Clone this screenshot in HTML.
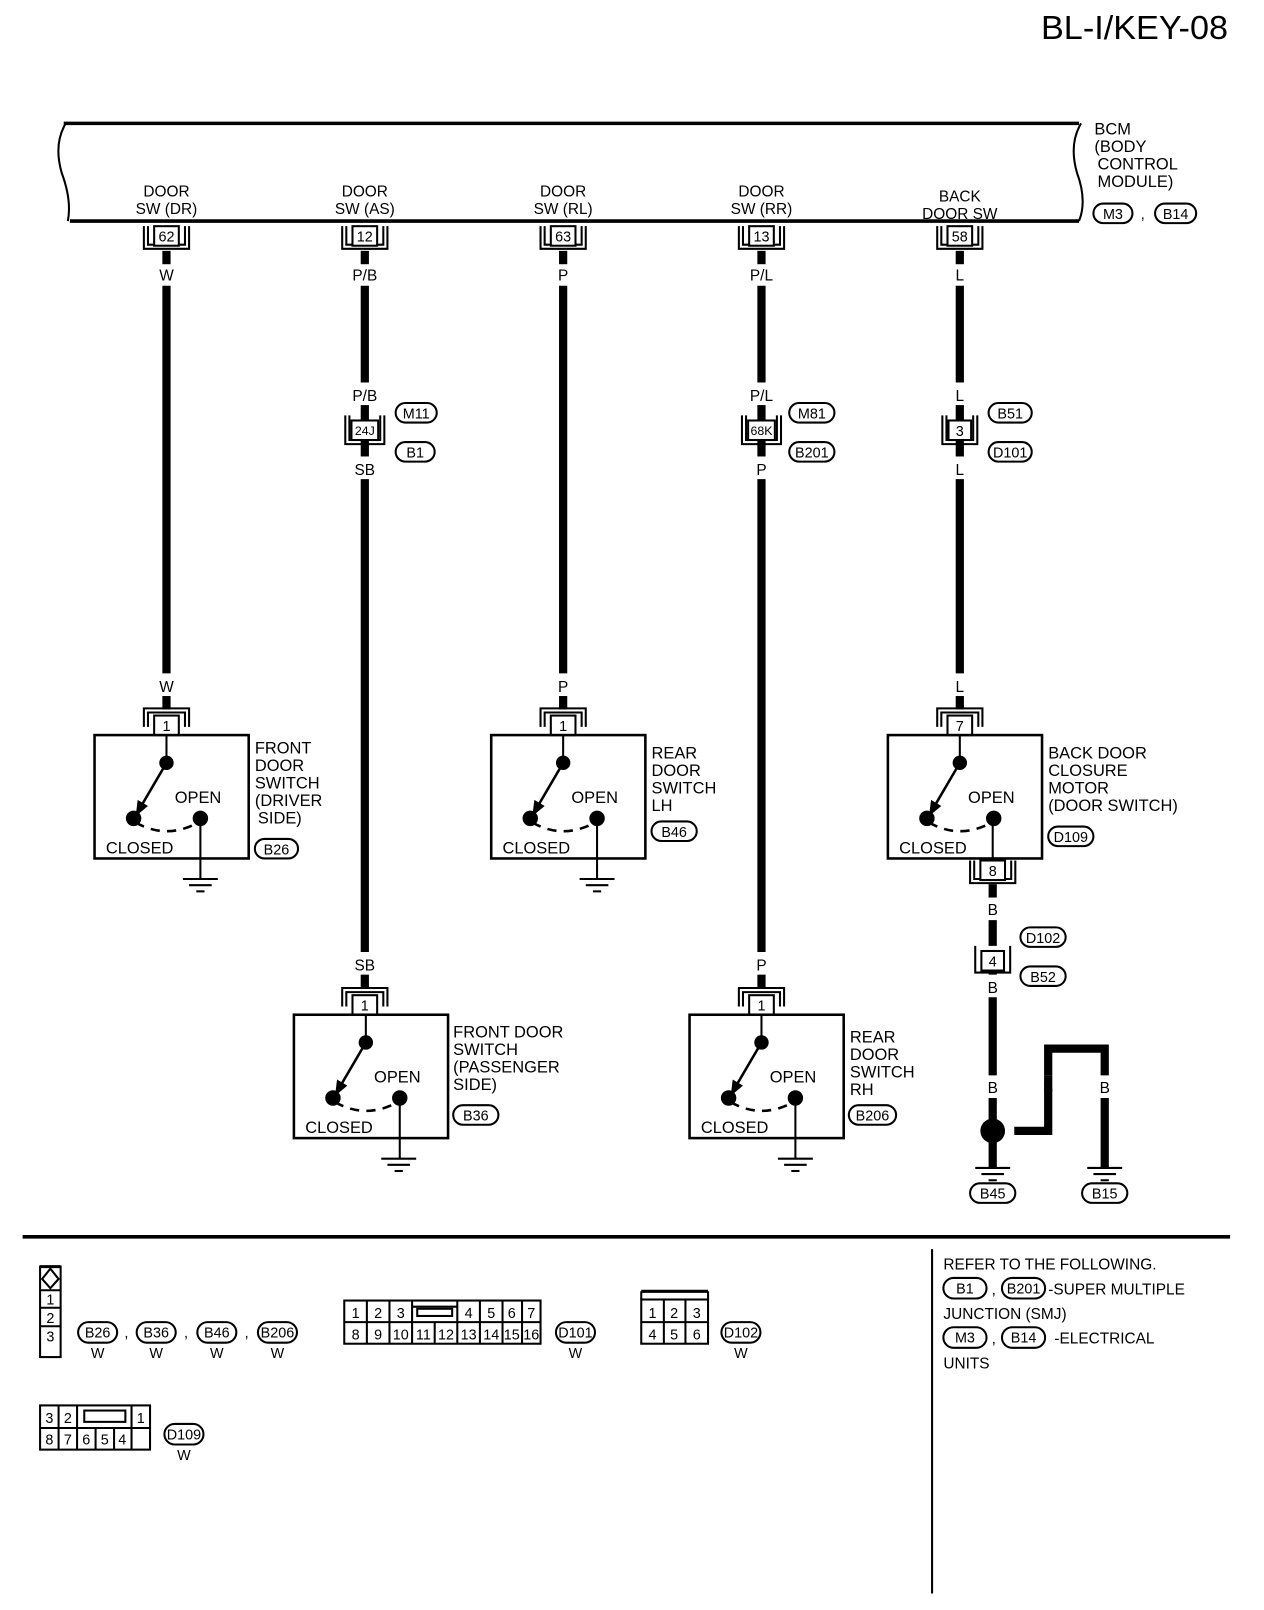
<!DOCTYPE html>
<html><head><meta charset="utf-8"><style>
html,body{margin:0;padding:0;background:#fff;}
svg{display:block;}
text{font-family:"Liberation Sans",sans-serif;fill:#000;}
</style></head><body>
<svg width="1264" height="1610" viewBox="0 0 1230 1566" preserveAspectRatio="none" xmlns="http://www.w3.org/2000/svg">
<defs>
<g id="sw">
<rect x="0" y="0" width="150" height="120" fill="none" stroke="#000" stroke-width="2.5"/>
<line x1="70" y1="0" x2="70" y2="27" stroke="#000" stroke-width="2"/>
<circle cx="70" cy="27" r="7"/>
<circle cx="38" cy="81" r="7.5"/>
<circle cx="103" cy="81" r="7.5"/>
<line x1="70" y1="27" x2="46" y2="68" stroke="#000" stroke-width="2.5"/>
<polygon points="40,79 42,63 52,69"/>
<path d="M40,85 Q70,102 101,85" fill="none" stroke="#000" stroke-width="2.5" stroke-dasharray="9 7"/>
<text x="78" y="66" font-size="16">OPEN</text>
<text x="11" y="115" font-size="16">CLOSED</text>
</g>
<g id="gnd">
<line x1="-17" y1="0" x2="17" y2="0" stroke="#000" stroke-width="2"/>
<line x1="-11" y1="6" x2="11" y2="6" stroke="#000" stroke-width="2"/>
<line x1="-4" y1="12" x2="4" y2="12" stroke="#000" stroke-width="2"/>
</g>
<g id="pinTop">
<path d="M-22,20 V2 H22 V20 M-18,20 V6 H18 V20" fill="none" stroke="#000" stroke-width="2"/>
<rect x="-12" y="9" width="24" height="19" fill="#fff" stroke="#000" stroke-width="2"/>
</g>
<g id="pinBot">
<path d="M-22,0 V22 H22 V0 M-18,0 V18 H18 V0" fill="none" stroke="#000" stroke-width="2"/>
<rect x="-12" y="0" width="24" height="19" fill="#fff" stroke="#000" stroke-width="2"/>
</g>
</defs>

<text x="1195" y="38" font-size="32" text-anchor="end" textLength="182" lengthAdjust="spacingAndGlyphs">BL-I/KEY-08</text>

<!-- BCM -->
<path d="M62,120 H1050" stroke="#000" stroke-width="3.5"/>
<path d="M68,215 H1050" stroke="#000" stroke-width="3.5"/>
<path d="M64,120 Q52,140 60,168 Q70,195 66,215" fill="none" stroke="#000" stroke-width="2"/>
<path d="M1052,120 Q1040,140 1048,168 Q1058,195 1050,215" fill="none" stroke="#000" stroke-width="2"/>
<g font-size="16">
<text x="1065" y="131">BCM</text><text x="1065" y="148">(BODY</text><text x="1068" y="165">CONTROL</text><text x="1068" y="182">MODULE)</text>
</g>
<g font-size="15" text-anchor="middle">
<text x="162" y="191">DOOR</text><text x="162" y="208">SW (DR)</text>
<text x="355" y="191">DOOR</text><text x="355" y="208">SW (AS)</text>
<text x="548" y="191">DOOR</text><text x="548" y="208">SW (RL)</text>
<text x="741" y="191">DOOR</text><text x="741" y="208">SW (RR)</text>
<text x="934" y="196">BACK</text><text x="934" y="213">DOOR SW</text>
</g>

<!-- BCM pins -->
<g font-size="14" text-anchor="middle">
<use href="#pinBot" x="162" y="220"/><text x="162" y="235">62</text>
<use href="#pinBot" x="355" y="220"/><text x="355" y="235">12</text>
<use href="#pinBot" x="548" y="220"/><text x="548" y="235">63</text>
<use href="#pinBot" x="741" y="220"/><text x="741" y="235">13</text>
<use href="#pinBot" x="934" y="220"/><text x="934" y="235">58</text>
</g>

<!-- wires -->
<g stroke="#000" stroke-width="8">
<line x1="162" y1="244" x2="162" y2="257"/><line x1="162" y1="278" x2="162" y2="655"/>
<line x1="355" y1="244" x2="355" y2="257"/><line x1="355" y1="278" x2="355" y2="372"/><line x1="355" y1="394" x2="355" y2="410"/><line x1="355" y1="428" x2="355" y2="444"/><line x1="355" y1="466" x2="355" y2="926"/><line x1="355" y1="948" x2="355" y2="960"/>
<line x1="548" y1="244" x2="548" y2="257"/><line x1="548" y1="278" x2="548" y2="655"/><line x1="548" y1="677" x2="548" y2="690"/>
<line x1="741" y1="244" x2="741" y2="257"/><line x1="741" y1="278" x2="741" y2="372"/><line x1="741" y1="394" x2="741" y2="410"/><line x1="741" y1="428" x2="741" y2="444"/><line x1="741" y1="466" x2="741" y2="926"/><line x1="741" y1="948" x2="741" y2="960"/>
<line x1="934" y1="244" x2="934" y2="257"/><line x1="934" y1="278" x2="934" y2="372"/><line x1="934" y1="394" x2="934" y2="410"/><line x1="934" y1="428" x2="934" y2="444"/><line x1="934" y1="466" x2="934" y2="655"/><line x1="934" y1="677" x2="934" y2="690"/>
<line x1="162" y1="677" x2="162" y2="690" />
<line x1="966" y1="860" x2="966" y2="873"/><line x1="966" y1="895" x2="966" y2="920"/><line x1="966" y1="940" x2="966" y2="948"/><line x1="966" y1="970" x2="966" y2="1046"/><line x1="966" y1="1068" x2="966" y2="1136"/>
<path d="M985,1100 H1020 V1046 M1020,1068 V1100" fill="none"/>
<path d="M1020,1046 V1020 H1075 V1046 M1075,1068 V1136" fill="none"/>
</g>
<circle cx="966" cy="1100" r="12"/>
<line x1="980" y1="1100" x2="987" y2="1100" stroke="#fff" stroke-width="10"/>

<!-- wire colour labels -->
<g font-size="15" text-anchor="middle">
<text x="162" y="273">W</text><text x="355" y="273">P/B</text><text x="548" y="273">P</text><text x="741" y="273">P/L</text><text x="934" y="273">L</text>
<text x="162" y="673">W</text><text x="548" y="673">P</text><text x="934" y="673">L</text>
<text x="355" y="390">P/B</text><text x="741" y="390">P/L</text><text x="934" y="390">L</text>
<text x="355" y="462">SB</text><text x="741" y="462">P</text><text x="934" y="462">L</text>
<text x="355" y="944">SB</text><text x="741" y="944">P</text>
<text x="966" y="890">B</text><text x="966" y="966">B</text>
<text x="966" y="1063">B</text><text x="1020" y="1063">B</text><text x="1075" y="1063">B</text>
</g>

<!-- inline connectors -->
<g stroke="#000" stroke-width="2" fill="none">
<path d="M336,404 V432 H374 V404 M340,404 V428 H370 V404"/>
<rect x="342" y="409" width="26" height="19" fill="#fff"/>
<path d="M722,404 V432 H760 V404 M726,404 V428 H756 V404"/>
<rect x="728" y="409" width="26" height="19" fill="#fff"/>
<path d="M917,404 V432 H951 V404 M921,404 V428 H947 V404"/>
<rect x="923" y="409" width="22" height="19" fill="#fff"/>
<path d="M949,920 V946 H983 V920"/>
<rect x="955" y="925" width="22" height="19" fill="#fff"/>
</g>
<g font-size="12" text-anchor="middle">
<text x="355" y="423">24J</text><text x="741" y="423">68K</text>
</g>
<g font-size="14" text-anchor="middle">
<text x="934" y="424">3</text><text x="966" y="940">4</text>
</g>

<!-- switches -->
<use href="#pinTop" x="162" y="687"/><use href="#sw" x="92" y="715"/><use href="#gnd" x="195" y="855"/><line x1="195" y1="796" x2="195" y2="855" stroke="#000" stroke-width="2"/>
<use href="#pinTop" x="548" y="687"/><use href="#sw" x="478" y="715"/><use href="#gnd" x="581" y="855"/><line x1="581" y1="796" x2="581" y2="855" stroke="#000" stroke-width="2"/>
<use href="#pinTop" x="934" y="687"/><use href="#sw" x="864" y="715"/><line x1="966" y1="796" x2="966" y2="838" stroke="#000" stroke-width="2"/>
<use href="#pinBot" x="966" y="837"/>
<use href="#pinTop" x="355" y="959"/><use href="#sw" x="286" y="987"/><use href="#gnd" x="388" y="1127"/><line x1="389" y1="1068" x2="389" y2="1127" stroke="#000" stroke-width="2"/>
<use href="#pinTop" x="741" y="959"/><use href="#sw" x="671" y="987"/><use href="#gnd" x="774" y="1127"/><line x1="774" y1="1068" x2="774" y2="1127" stroke="#000" stroke-width="2"/>
<use href="#gnd" x="966" y="1136"/><use href="#gnd" x="1075" y="1136"/>
<g font-size="14" text-anchor="middle">
<text x="162" y="711">1</text><text x="548" y="711">1</text><text x="934" y="711">7</text><text x="966" y="852">8</text><text x="355" y="983">1</text><text x="741" y="983">1</text>
</g>

<g font-size="16">
<text x="248" y="733">FRONT</text><text x="248" y="750">DOOR</text><text x="248" y="767">SWITCH</text><text x="248" y="784">(DRIVER</text><text x="251" y="801">SIDE)</text>
<text x="634" y="738">REAR</text><text x="634" y="755">DOOR</text><text x="634" y="772">SWITCH</text><text x="634" y="789">LH</text>
<text x="1020" y="738">BACK DOOR</text><text x="1020" y="755">CLOSURE</text><text x="1020" y="772">MOTOR</text><text x="1020" y="789">(DOOR SWITCH)</text>
<text x="441" y="1009">FRONT DOOR</text><text x="441" y="1026">SWITCH</text><text x="441" y="1043">(PASSENGER</text><text x="441" y="1060">SIDE)</text>
<text x="827" y="1014">REAR</text><text x="827" y="1031">DOOR</text><text x="827" y="1048">SWITCH</text><text x="827" y="1065">RH</text>
</g>

<!-- ovals -->
<g fill="none" stroke="#000" stroke-width="2">
<rect x="1064" y="198" width="38" height="19" rx="9.5"/><rect x="1124" y="198" width="40" height="19" rx="9.5"/>
<rect x="385" y="392" width="40" height="19" rx="9.5"/><rect x="385" y="430" width="38" height="19" rx="9.5"/>
<rect x="768" y="392" width="44" height="19" rx="9.5"/><rect x="768" y="430" width="44" height="19" rx="9.5"/>
<rect x="962" y="392" width="42" height="19" rx="9.5"/><rect x="962" y="430" width="42" height="19" rx="9.5"/>
<rect x="248" y="816" width="42" height="19" rx="9.5"/>
<rect x="634" y="799" width="44" height="19" rx="9.5"/>
<rect x="1020" y="804" width="44" height="19" rx="9.5"/>
<rect x="993" y="902" width="44" height="19" rx="9.5"/><rect x="993" y="940" width="44" height="19" rx="9.5"/>
<rect x="441" y="1075" width="44" height="19" rx="9.5"/>
<rect x="826" y="1075" width="46" height="19" rx="9.5"/>
<rect x="944" y="1151" width="44" height="19" rx="9.5"/><rect x="1053" y="1151" width="44" height="19" rx="9.5"/>
</g>
<g font-size="14" text-anchor="middle">
<text x="1083" y="213">M3</text><text x="1144" y="213">B14</text><text x="1112" y="213">,</text>
<text x="405" y="407">M11</text><text x="404" y="445">B1</text>
<text x="790" y="407">M81</text><text x="790" y="445">B201</text>
<text x="983" y="407">B51</text><text x="983" y="445">D101</text>
<text x="269" y="831">B26</text><text x="656" y="814">B46</text><text x="1042" y="819">D109</text>
<text x="1015" y="917">D102</text><text x="1015" y="955">B52</text>
<text x="463" y="1090">B36</text><text x="849" y="1090">B206</text>
<text x="966" y="1166">B45</text><text x="1075" y="1166">B15</text>
</g>

<!-- bottom section -->
<line x1="22" y1="1203" x2="1197" y2="1203" stroke="#000" stroke-width="3.5"/>
<line x1="907" y1="1215" x2="907" y2="1550" stroke="#000" stroke-width="2"/>
<g font-size="15">
<text x="918" y="1235">REFER TO THE FOLLOWING.</text>
<text x="1020" y="1259">-SUPER MULTIPLE</text>
<text x="918" y="1283">JUNCTION (SMJ)</text>
<text x="1026" y="1307">-ELECTRICAL</text>
<text x="918" y="1331">UNITS</text>
<text x="965" y="1259">,</text><text x="965" y="1307">,</text>
</g>
<g fill="none" stroke="#000" stroke-width="2">
<rect x="918" y="1243" width="42" height="20" rx="10"/><rect x="975" y="1243" width="42" height="20" rx="10"/>
<rect x="918" y="1291" width="42" height="20" rx="10"/><rect x="975" y="1291" width="42" height="20" rx="10"/>
</g>
<g font-size="14" text-anchor="middle">
<text x="939" y="1258">B1</text><text x="996" y="1258">B201</text><text x="939" y="1306">M3</text><text x="996" y="1306">B14</text>
</g>

<!-- connector faces -->
<g fill="none" stroke="#000" stroke-width="2">
<rect x="39" y="1232" width="20" height="88"/>
<line x1="39" y1="1255" x2="59" y2="1255"/><line x1="39" y1="1272" x2="59" y2="1272"/><line x1="39" y1="1290" x2="59" y2="1290"/>
<path d="M49,1234 L57,1244 L49,1253 L41,1244 Z"/>
<line x1="39" y1="1232" x2="59" y2="1232" stroke-width="3"/>
<rect x="76" y="1286" width="38" height="20" rx="10"/><rect x="133" y="1286" width="38" height="20" rx="10"/><rect x="192" y="1286" width="38" height="20" rx="10"/><rect x="251" y="1286" width="38" height="20" rx="10"/>
<!-- D101 -->
<rect x="335" y="1265" width="191" height="42"/>
<line x1="335" y1="1286" x2="526" y2="1286"/>
<line x1="357" y1="1265" x2="357" y2="1307"/><line x1="379" y1="1265" x2="379" y2="1307"/><line x1="401" y1="1265" x2="401" y2="1307"/>
<line x1="423" y1="1286" x2="423" y2="1307"/><line x1="445" y1="1265" x2="445" y2="1307"/><line x1="467" y1="1265" x2="467" y2="1307"/><line x1="489" y1="1265" x2="489" y2="1307"/><line x1="508" y1="1265" x2="508" y2="1307"/>
<path d="M401,1271 H445"/>
<rect x="406" y="1273" width="34" height="7"/>
<rect x="541" y="1286" width="38" height="20" rx="10"/>
<!-- D102 -->
<rect x="624" y="1264" width="65" height="43"/>
<line x1="624" y1="1256" x2="689" y2="1256" stroke-width="3"/>
<line x1="624" y1="1256" x2="624" y2="1264"/><line x1="689" y1="1256" x2="689" y2="1264"/>
<line x1="624" y1="1286" x2="689" y2="1286"/>
<line x1="646" y1="1264" x2="646" y2="1307"/><line x1="667" y1="1264" x2="667" y2="1307"/>
<rect x="702" y="1286" width="38" height="20" rx="10"/>
<!-- D109 -->
<rect x="39" y="1367" width="107" height="43"/>
<line x1="39" y1="1389" x2="146" y2="1389"/>
<line x1="57" y1="1367" x2="57" y2="1410"/><line x1="75" y1="1367" x2="75" y2="1410"/>
<line x1="93" y1="1389" x2="93" y2="1410"/><line x1="111" y1="1389" x2="111" y2="1410"/><line x1="128" y1="1367" x2="128" y2="1410"/>
<rect x="82" y="1372" width="40" height="11"/>
<rect x="160" y="1385" width="38" height="20" rx="10"/>
</g>
<g font-size="14" text-anchor="middle">
<text x="49" y="1269">1</text><text x="49" y="1287">2</text><text x="49" y="1305">3</text>
<text x="95" y="1301">B26</text><text x="152" y="1301">B36</text><text x="211" y="1301">B46</text><text x="270" y="1301">B206</text>
<text x="123" y="1301">,</text><text x="181" y="1301">,</text><text x="240" y="1301">,</text>
<text x="95" y="1321">W</text><text x="152" y="1321">W</text><text x="211" y="1321">W</text><text x="270" y="1321">W</text>
<text x="346" y="1282">1</text><text x="368" y="1282">2</text><text x="390" y="1282">3</text><text x="456" y="1282">4</text><text x="478" y="1282">5</text><text x="498" y="1282">6</text><text x="517" y="1282">7</text>
<text x="346" y="1303">8</text><text x="368" y="1303">9</text><text x="390" y="1303">10</text><text x="412" y="1303">11</text><text x="434" y="1303">12</text><text x="456" y="1303">13</text><text x="478" y="1303">14</text><text x="498" y="1303">15</text><text x="517" y="1303">16</text>
<text x="560" y="1301">D101</text><text x="560" y="1321">W</text>
<text x="635" y="1282">1</text><text x="656" y="1282">2</text><text x="678" y="1282">3</text>
<text x="635" y="1303">4</text><text x="656" y="1303">5</text><text x="678" y="1303">6</text>
<text x="721" y="1301">D102</text><text x="721" y="1321">W</text>
<text x="48" y="1384">3</text><text x="66" y="1384">2</text><text x="137" y="1384">1</text>
<text x="48" y="1405">8</text><text x="66" y="1405">7</text><text x="84" y="1405">6</text><text x="102" y="1405">5</text><text x="119" y="1405">4</text>
<text x="179" y="1400">D109</text><text x="179" y="1420">W</text>
</g>
</svg>
</body></html>
